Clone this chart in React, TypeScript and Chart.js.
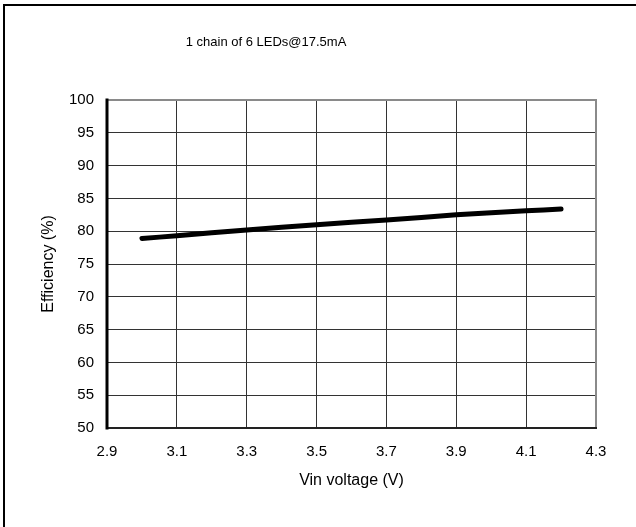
import React, { useEffect, useRef } from "react";
import { Chart, registerables } from "chart.js";

Chart.register(...registerables);

const titleText = "1 chain of 6 LEDs@17.5mA";
const xTitle = "Vin voltage (V)";
const yTitle = "Efficiency (%)";
const vinValues = [3.0, 3.1, 3.3, 3.5, 3.7, 3.9, 4.1, 4.2];
const efficiencyValues = [78.9, 79.3, 80.2, 81.0, 81.7, 82.5, 83.1, 83.4];
const xMin = 2.9;
const xMax = 4.3;
const xStep = 0.2;
const yMin = 50;
const yMax = 100;
const yStep = 5;

const FONT = "'Liberation Sans', Arial, sans-serif";

const framePlugin = {
  id: "frame",
  beforeDatasetsDraw(chart: any) {
    const { ctx, chartArea } = chart;
    const { left, right, top, bottom } = chartArea;
    ctx.save();
    ctx.lineCap = "square";
    ctx.strokeStyle = "#8a8a8a";
    ctx.lineWidth = 2;
    ctx.beginPath();
    ctx.moveTo(left, top);
    ctx.lineTo(right, top);
    ctx.lineTo(right, bottom);
    ctx.stroke();
    ctx.strokeStyle = "#222";
    ctx.lineWidth = 2;
    ctx.beginPath();
    ctx.moveTo(left, bottom);
    ctx.lineTo(right, bottom);
    ctx.stroke();
    ctx.strokeStyle = "#000";
    ctx.lineWidth = 3;
    ctx.beginPath();
    ctx.moveTo(left, top);
    ctx.lineTo(left, bottom);
    ctx.stroke();
    ctx.restore();
  },
  afterDraw(chart: any) {
    const { ctx } = chart;
    ctx.save();
    ctx.fillStyle = "#000";
    ctx.font = "13px " + FONT;
    ctx.textAlign = "center";
    ctx.textBaseline = "middle";
    ctx.fillText(titleText, 266, 42);
    ctx.restore();
  },
};

export default function App() {
  const ref = useRef<HTMLCanvasElement | null>(null);
  useEffect(() => {
    if (!ref.current) return;
    Chart.defaults.font.family = FONT;
    Chart.defaults.color = "#000";
    const chart = new Chart(ref.current, {
      type: "line",
      data: {
        datasets: [
          {
            data: vinValues.map((v, i) => ({ x: v, y: efficiencyValues[i] })),
            borderColor: "#000",
            borderWidth: 5,
            borderCapStyle: "round",
            pointRadius: 0,
            tension: 0.3,
            fill: false,
          },
        ],
      },
      options: {
        responsive: false,
        animation: false,
        layout: { padding: { left: 0, right: 40, top: 100, bottom: 0 } },
        plugins: {
          legend: { display: false },
          tooltip: { enabled: false },
          title: { display: false },
        },
        scales: {
          x: {
            type: "linear",
            min: xMin,
            max: xMax,
            afterFit(scale: any) {
              scale.height = 99;
            },
            ticks: {
              stepSize: xStep,
              font: { size: 15 },
              color: "#000",
              padding: 15,
              maxRotation: 0,
              callback: (v: any) => Number(v).toFixed(1),
            },
            grid: { color: "#333", lineWidth: 1, drawTicks: false },
            border: { display: false },
            title: {
              display: true,
              text: xTitle,
              font: { size: 16 },
              color: "#000",
              padding: { top: 0, bottom: 36.4 },
            },
          },
          y: {
            type: "linear",
            min: yMin,
            max: yMax,
            afterFit(scale: any) {
              scale.width = 107;
            },
            ticks: {
              stepSize: yStep,
              font: { size: 15 },
              color: "#000",
              padding: 13,
            },
            grid: { color: "#333", lineWidth: 1, drawTicks: false },
            border: { display: false },
            title: {
              display: true,
              text: yTitle,
              font: { size: 16 },
              color: "#000",
              padding: { top: 39.4, bottom: 0 },
            },
          },
        },
      },
      plugins: [framePlugin],
    } as any);
    return () => chart.destroy();
  }, []);

  return (
    <div style={{ position: "absolute", left: 0, top: 0, width: 636, height: 527, background: "#fff" }}>
      <canvas ref={ref} width={636} height={527} style={{ position: "absolute", left: 0, top: 0 }} />
      <div
        style={{
          position: "absolute",
          left: 3,
          top: 4,
          width: 633,
          height: 523,
          borderTop: "2px solid #000",
          borderLeft: "2px solid #000",
          boxSizing: "border-box",
          pointerEvents: "none",
        }}
      />
    </div>
  );
}
